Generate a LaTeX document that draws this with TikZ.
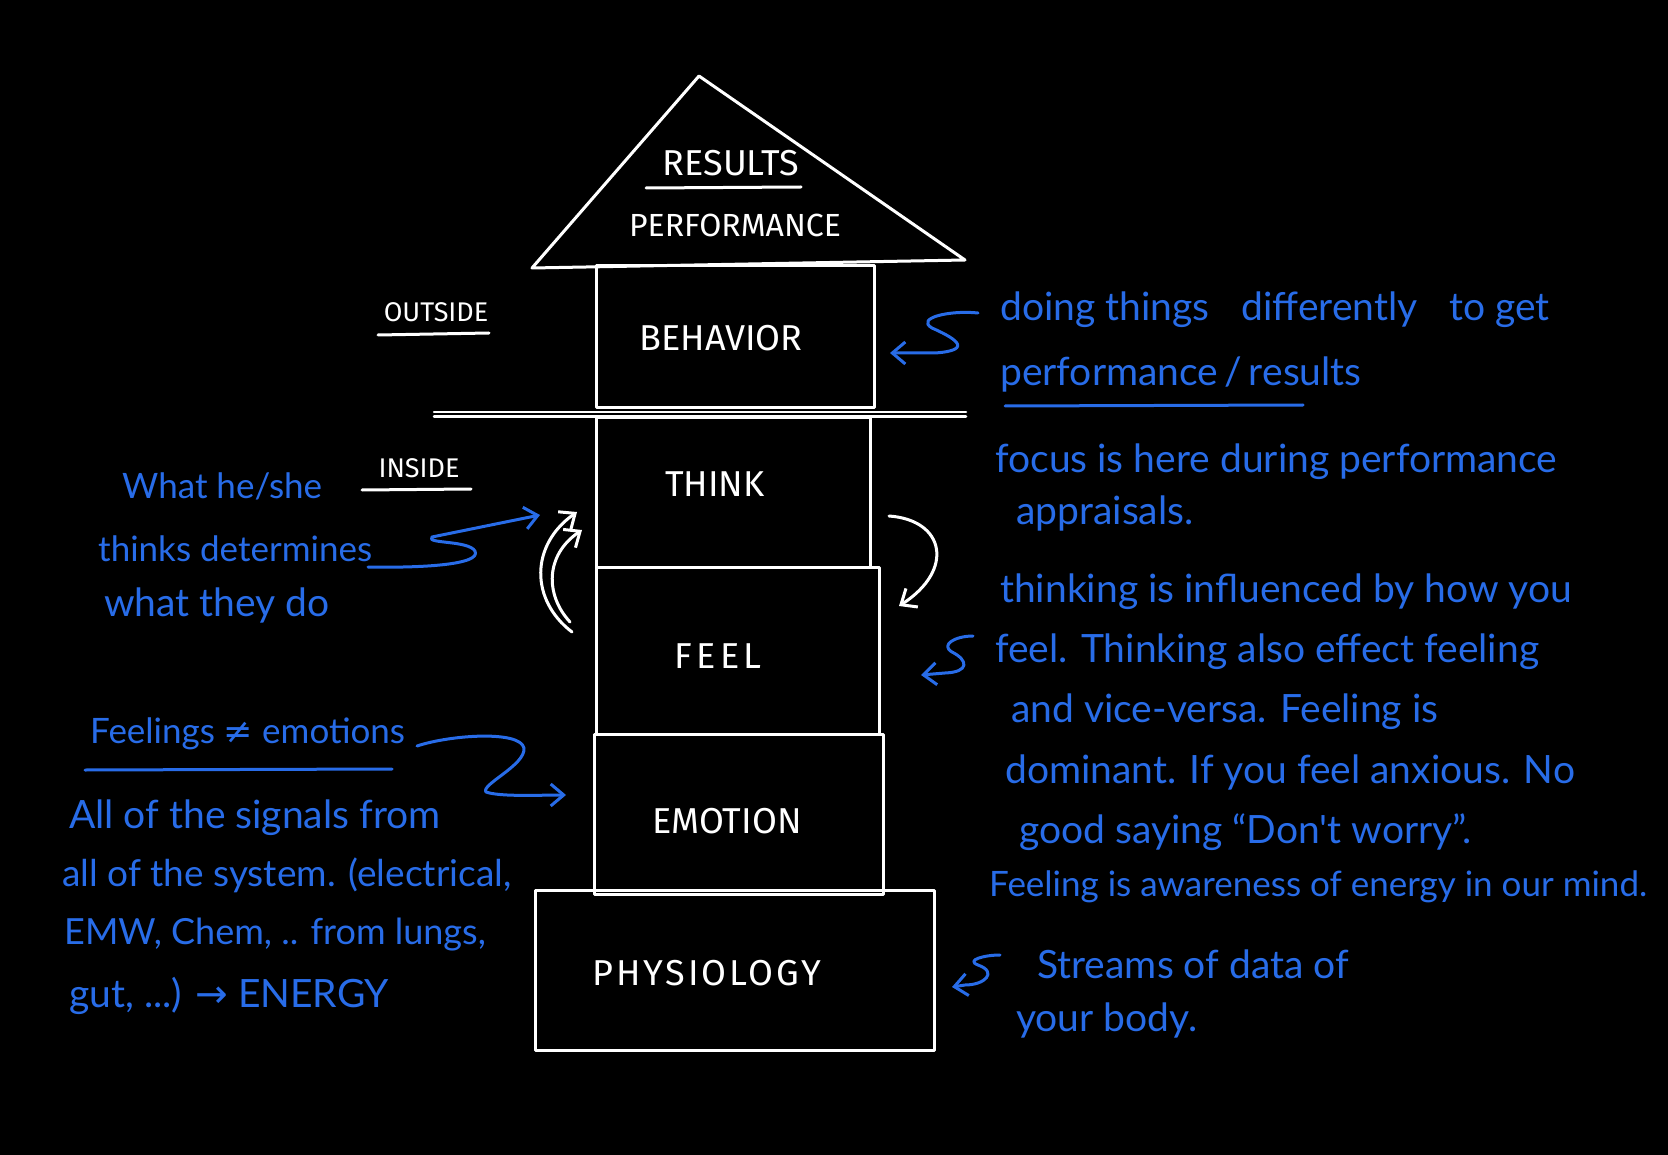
\documentclass[tikz,border=0pt]{standalone}
\usepackage{fontspec}
\newfontfamily\capsfont{Fira Sans}
\newfontfamily\handfont{Lato}
\newfontfamily\symfont{DejaVu Sans}
\usetikzlibrary{arrows.meta}
\definecolor{ink}{RGB}{40,108,232}
\begin{document}
\begin{tikzpicture}[x=1pt,y=-1pt,
  chalk/.style={draw=white, line width=3pt, line cap=round, line join=round},
  box/.style={chalk, rectangle, inner sep=0pt},
  wlabel/.style={text=white, font=\capsfont\fontsize{36}{40}\selectfont, inner sep=0pt},
  wsmall/.style={text=white, font=\capsfont\fontsize{27}{30}\selectfont, inner sep=0pt},
  blabel/.style={text=ink, font=\handfont\fontsize{39}{44}\selectfont, anchor=west, inner sep=0pt},
  bsmall/.style={font=\handfont\fontsize{35}{40}\selectfont},
  barb/.style={-{Straight Barb[length=13pt,width=22pt,line width=3pt]}},
  bink/.style={draw=ink, line width=3pt, line cap=round, line join=round}]
\fill[black] (0,0) rectangle (1668,1155);
\useasboundingbox (0,0) rectangle (1668,1155);

% roof
\coordinate (roofL) at (532,268);
\coordinate (apex) at (699,76);
\coordinate (roofR) at (965,260);
\draw[chalk] (roofL) -- (apex) -- (roofR) -- cycle;
\node[wlabel] (tresults) at (731,163) {RESULTS};
\draw[chalk] (646,188) -- (801,187);
\node[wlabel, font=\capsfont\fontsize{32}{36}\selectfont] (tperf) at (735,225) {PERFORMANCE};

% boxes
\node[box, minimum width=278pt, minimum height=142pt] (behavior) at (735,337) {};
\node[box, minimum width=274pt, minimum height=149pt] (think) at (733,492.5) {};
\node[box, minimum width=283pt, minimum height=167pt] (feel) at (737.5,650.5) {};
\node[box, minimum width=289pt, minimum height=160pt] (emotion) at (738.5,814) {};
\node[box, minimum width=399pt, minimum height=160pt] (physiology) at (734.5,970) {};

\node[wlabel] (tbeh) at (721,338) {BEHAVIOR};
\node[wlabel] (tthink) at (715,484) {THINK};
\node[wlabel, font=\capsfont\fontsize{36}{40}\selectfont\addfontfeature{LetterSpace=12}] (tfeel) at (718,656) {FEEL};
\node[wlabel] (temo) at (727,821) {EMOTION};
\node[wlabel, font=\capsfont\fontsize{36}{40}\selectfont\addfontfeature{LetterSpace=8}] (tphys) at (707,973) {PHYSIOLOGY};

% divider
\coordinate (divL) at (434,412);
\coordinate (divR) at (966,412);
\draw[chalk, line width=2.5pt] (divL) -- (divR);
\draw[chalk, line width=2.5pt] ([yshift=-4.5pt]divL) -- ([yshift=-4.5pt]divR);

% outside / inside
\node[wsmall] (tout) at (436,312) {OUTSIDE};
\draw[chalk] (378,335) -- (489,333);
\node[wsmall] (tin) at (419,468) {INSIDE};
\draw[chalk] (362,490) -- (471,489);

% white arrows feel <-> think
\coordinate (wl1s) at (572,632); \coordinate (wl1e) at (577,512);
\coordinate (wl2s) at (570,622); \coordinate (wl2e) at (582,530);
\coordinate (wrs) at (889,516);  \coordinate (wre) at (899,606);
\draw[chalk, barb] (wl1s) .. controls (530,600) and (530,545) .. (wl1e);
\draw[chalk, barb] (wl2s) .. controls (545,595) and (545,555) .. (wl2e);
\draw[chalk, barb] (wrs) .. controls (945,520) and (955,570) .. (wre);

% right blue text
\node[blabel] (r1) at (1000,310) {doing things\hspace{22pt} differently\hspace{22pt} to get};
\node[blabel] (r2) at (1000,374) {performance\,/\,results};
\draw[bink] (1005,406) -- (1303,405);
\node[blabel] (r3) at (995,462) {focus is here during performance};
\node[blabel] (r4) at (1016,513) {appraisals.};
\node[blabel] (r5) at (1000,592) {thinking is influenced by how you};
\node[blabel] (r6) at (995,652) {feel. Thinking also effect feeling};
\node[blabel] (r7) at (1011,712) {and vice-versa. Feeling is};
\node[blabel] (r8) at (1005,772) {dominant. If you feel anxious. No};
\node[blabel] (r9) at (1019,832) {good saying “Don't worry”.};
\node[blabel, bsmall] (r10) at (989,887) {Feeling is awareness of energy in our mind.};
\node[blabel] (r11) at (1037,964) {Streams of data of};
\node[blabel] (r12) at (1016,1020) {your body.};

% left blue text
\node[blabel, bsmall] (l1) at (122,486) {What he/she};
\node[blabel, bsmall] (l2) at (98,549) {thinks determines};
\node[blabel] (l3) at (104,605) {what they do};
\node[blabel, bsmall] (l4) at (90,734) {Feelings {\symfont ≠} emotions};
\draw[bink] (85,770) -- (392,769);
\node[blabel] (l5) at (69,818) {All of the signals from};
\node[blabel, font=\handfont\fontsize{37}{42}\selectfont] (l6) at (62,875) {all of the system. (electrical,};
\node[blabel, font=\handfont\fontsize{36}{40}\selectfont] (l7) at (64,935) {EMW, Chem, .. from lungs,};
\node[blabel] (l8) at (69,996) {gut, ...) {\symfont →} ENERGY};

% blue arrows
\coordinate (a1s) at (978,313); \coordinate (a1e) at (890,353);
\draw[bink, barb] (a1s) .. controls (950,310) and (915,318) .. (932,328) .. controls (950,336) and (978,350) .. (935,353) -- (a1e);
\coordinate (a2s) at (368,567); \coordinate (a2e) at (540,515);
\draw[bink, barb] (a2s) .. controls (420,568) and (482,565) .. (475,551) .. controls (468,540) and (425,544) .. (432,537) -- (a2e);
\coordinate (a3s) at (973,636); \coordinate (a3e) at (921,675);
\draw[bink, barb] (a3s) .. controls (955,636) and (940,645) .. (952,652) .. controls (968,660) and (970,672) .. (945,673) -- (a3e);
\coordinate (a4s) at (417,746); \coordinate (a4e) at (566,795);
\draw[bink, barb] (a4s) .. controls (450,735) and (520,730) .. (524,748) .. controls (526,765) and (480,785) .. (486,792) .. controls (500,797) and (540,795) .. (a4e);
\coordinate (a5s) at (1000,955); \coordinate (a5e) at (952,987);
\draw[bink, barb] (a5s) .. controls (985,955) and (965,960) .. (978,965) .. controls (998,972) and (985,985) .. (965,985) -- (a5e);
\end{tikzpicture}
\end{document}
